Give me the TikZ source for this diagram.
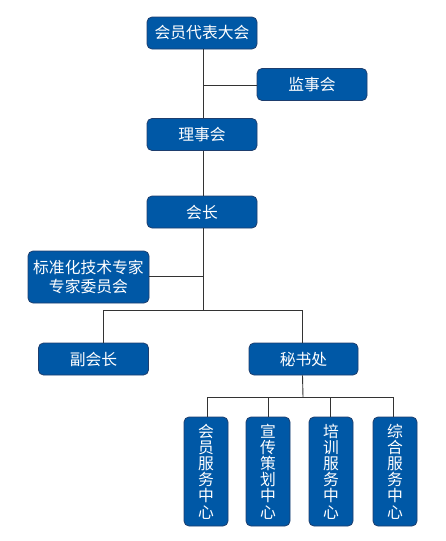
\documentclass[tikz,border=0pt]{standalone}
\usepackage{fontspec}
\setmainfont{Noto Sans CJK SC}
\definecolor{boxfill}{RGB}{0,88,166}
\definecolor{boxedge}{RGB}{30,62,110}
\definecolor{linec}{RGB}{51,51,51}
\tikzset{
  orgbox/.style={draw=boxedge, line width=0.8pt, fill=boxfill, rounded corners=5pt,
    text=white, font=\fontsize{15.8}{17}\selectfont, inner sep=0pt, align=center,
    minimum width=110pt, minimum height=32pt},
  vbox/.style={orgbox, minimum width=44pt, minimum height=109pt, text width=16pt, font=\fontsize{15.8}{16.2}\selectfont},
  conn/.style={draw=linec, line width=0.9pt}
}
\begin{document}
\begin{tikzpicture}[x=1pt,y=-1pt]
\useasboundingbox (0,0) rectangle (445,541);
\node[orgbox] (a) at (202,33) {会员代表大会};
\node[orgbox] (b) at (312,84.5) {监事会};
\node[orgbox] (c) at (202,134.5) {理事会};
\node[orgbox] (d) at (202,212) {会长};
\node[orgbox, minimum width=121pt, minimum height=52pt, font=\fontsize{15.8}{19.5}\selectfont] (e) at (88.5,277) {标准化技术专家\\专家委员会};
\node[orgbox] (f) at (93.5,359) {副会长};
\node[orgbox, minimum width=109pt] (g) at (303.5,359) {秘书处};
\node[vbox] (h1) at (206,471.5) {会\\员\\服\\务\\中\\心};
\node[vbox] (h2) at (268,471.5) {宣\\传\\策\\划\\中\\心};
\node[vbox] (h3) at (331,471.5) {培\\训\\服\\务\\中\\心};
\node[vbox] (h4) at (395,471.5) {综\\合\\服\\务\\中\\心};
\coordinate (j1) at (203,85);
\coordinate (j2) at (203,276);
\coordinate (j3) at (203,310);
\coordinate (j4) at (303,397);
\draw[conn] (a.south -| j1) -- (c.north -| j1);
\draw[conn] (j1) -- (b.west |- j1);
\draw[conn] (c.south -| j1) -- (d.north -| j1);
\draw[conn] (d.south -| j1) -- (j3);
\draw[conn] (j2) -- (e.east |- j2);
\draw[conn] (j3) -| ([xshift=9.5pt]f.north);
\draw[conn] (j3) -| ([xshift=-1pt]g.north);
\draw[conn] ([xshift=-1pt]g.south) -- (j4);
\draw[conn] (j4) -| ([xshift=1pt]h1.north);
\draw[conn] (j4) -| (h2.north);
\draw[conn] (j4) -| ([xshift=-1pt]h3.north);
\draw[conn] (j4) -| ([xshift=-2pt]h4.north);
\end{tikzpicture}
\end{document}
